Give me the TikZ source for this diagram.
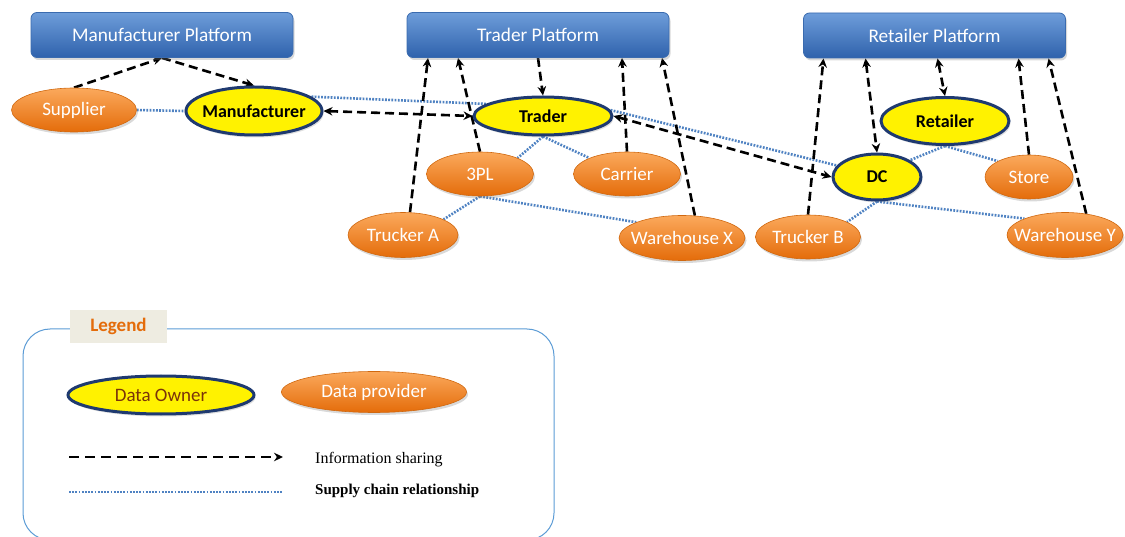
\documentclass[tikz,border=0pt]{standalone}
\usepackage{fontspec}
\setmainfont{Carlito}
\newfontfamily\legserif{Liberation Serif}
\usetikzlibrary{arrows.meta,shapes.geometric,shadows,backgrounds}
\definecolor{platTop}{HTML}{6E9DDA}
\definecolor{platBot}{HTML}{2F62AC}
\definecolor{platEdge}{HTML}{3A6BAF}
\definecolor{orTop}{HTML}{FBA95C}
\definecolor{orBot}{HTML}{E46C0A}
\definecolor{orEdge}{HTML}{D0680F}
\definecolor{ownEdge}{HTML}{1F3A70}
\definecolor{relBlue}{HTML}{4F82C2}
\definecolor{legEdge}{HTML}{5B9BD5}
\definecolor{legFill}{HTML}{EEECE1}
\definecolor{legText}{HTML}{E46C0A}
\definecolor{ownText}{HTML}{7A330A}
\newcommand{\ztext}[1]{\makebox[0pt]{#1}}
\tikzset{
  platform/.style={rectangle, rounded corners=6pt, draw=platEdge, line width=0.8pt,
    top color=platTop, bottom color=platBot, minimum width=262pt, minimum height=45pt,
    inner sep=0pt, text=white, font=\fontsize{19.3}{22}\selectfont,
    drop shadow={opacity=0.3, shadow xshift=1.5pt, shadow yshift=-2.5pt}},
  provider/.style={ellipse, inner sep=0pt, top color=orTop, bottom color=orBot,
    draw=orEdge, line width=0.6pt, text=white, font=\fontsize{19}{22}\selectfont,
    drop shadow={opacity=0.3, shadow xshift=1.5pt, shadow yshift=-2.5pt}},
  owner/.style={ellipse, inner sep=0pt, fill=yellow, draw=ownEdge, line width=3pt,
    text=black, font=\bfseries\fontsize{18}{21}\selectfont,
    drop shadow={opacity=0.25, shadow xshift=1.5pt, shadow yshift=-2.5pt}},
  share/.style={line width=2.6pt, dash pattern=on 9pt off 5pt,
    >={Stealth[length=9pt,width=8.5pt]}},
  relation/.style={relBlue, line width=2.6pt, dash pattern=on 1.8pt off 1.4pt},
}
\begin{document}
\begin{tikzpicture}[x=1pt,y=-1pt]
\clip (0,0) rectangle (1125,537);
\useasboundingbox (0,0) rectangle (1125,537);

% platforms
\node[platform] (mp) at (162,35) {Manufacturer Platform};
\node[platform] (tp) at (538,35) {Trader Platform};
\node[platform] (rp) at (934.5,35.5) {Retailer Platform};

% data owners
\node[owner, minimum width=136pt, minimum height=48pt] (man) at (254,111) {\ztext{Manufacturer}};
\node[owner, minimum width=138pt, minimum height=38pt] (tra) at (543,116) {\ztext{Trader}};
\node[owner, minimum width=128pt, minimum height=47pt] (ret) at (945,121) {\ztext{Retailer}};
\node[owner, minimum width=88pt, minimum height=46pt] (dc) at (877,177) {\ztext{DC}};

% data providers
\node[provider, minimum width=125pt, minimum height=44pt] (sup) at (74,110) {\ztext{Supplier}};
\node[provider, minimum width=107pt, minimum height=44pt] (tpl) at (480,174) {\ztext{3PL}};
\node[provider, minimum width=107pt, minimum height=44pt] (car) at (627,174) {\ztext{Carrier}};
\node[provider, minimum width=110pt, minimum height=45pt] (trA) at (403,235) {\ztext{Trucker A}};
\node[provider, minimum width=126pt, minimum height=45pt] (whX) at (682,238) {\ztext{Warehouse X}};
\node[provider, minimum width=88pt, minimum height=44pt] (sto) at (1029,177) {\ztext{Store}};
\node[provider, minimum width=105pt, minimum height=44pt] (trB) at (808,237) {\ztext{Trucker B}};
\node[provider, minimum width=116pt, minimum height=45pt] (whY) at (1065,235) {\ztext{Warehouse Y}};

\begin{pgfonlayer}{background}
% supply chain relationships
\draw[relation] (sup.east) -- (man.west);
\draw[relation] (man.14) -- (tra.168);
\draw[relation] (tra.5) -- (dc.164);
\draw[relation] (tra.south) -- (tpl.23);
\draw[relation] (tra.south) -- (car.157);
\draw[relation] (tpl.south) -- (trA.21);
\draw[relation] (tpl.south) -- (whX.161);
\draw[relation] (ret.south) -- (dc.27);
\draw[relation] (ret.south) -- (sto.153);
\draw[relation] (dc.south) -- (trB.21);
\draw[relation] (dc.south) -- (whY.158);
% information sharing
\draw[share,->] (sup.north) -- (mp.south);
\draw[share,->] (mp.south) -- (man.north);
\draw[share,<->] (man.east) -- (tra.west);
\draw[share,<->] (tra.east) -- (dc.west);
\draw[share,->] (tp.south) -- (tra.north);
\draw[share,->] ([xshift=7pt]trA.north) -- ([xshift=-110pt]tp.south);
\draw[share,->] (tpl.north) -- ([xshift=-80pt]tp.south);
\draw[share,->] (car.north) -- ([xshift=84pt]tp.south);
\draw[share,->] (whX.60) -- ([xshift=124pt]tp.south);
\draw[share,->] (trB.north) -- ([xshift=-111pt]rp.south);
\draw[share,<->] ([xshift=-69pt]rp.south) -- (dc.north);
\draw[share,<->] ([xshift=3pt]rp.south) -- (ret.north);
\draw[share,->] (sto.north) -- ([xshift=84pt]rp.south);
\draw[share,->] (whY.45) -- ([xshift=114pt]rp.south);
\end{pgfonlayer}

% legend
\draw[legEdge, line width=1pt, rounded corners=27pt] (23,329) rectangle (554,540);
\node[fill=legFill, minimum width=97pt, minimum height=33pt, inner sep=0pt,
  text=legText, font=\bfseries\fontsize{19}{22}\selectfont] (leg) at (118.5,326.5) {Legend};
\node[owner, minimum width=186pt, minimum height=38pt, text=ownText,
  font=\fontsize{19}{22}\selectfont] (lown) at (161,395) {\ztext{Data Owner}};
\node[provider, minimum width=185pt, minimum height=41pt] (lprov) at (374,392) {\ztext{Data provider}};
\coordinate (la1) at (69,457);
\coordinate (la2) at (283,457);
\draw[share,->, dash pattern=on 10pt off 6pt] (la1) -- (la2);
\coordinate (lb1) at (69,492);
\coordinate (lb2) at (282,492);
\draw[relation] (lb1) -- (lb2);
\node[anchor=west, inner sep=0pt, font=\legserif\fontsize{16}{18}\selectfont] (linfo) at (315,460) {Information sharing};
\node[anchor=west, inner sep=0pt, font=\legserif\bfseries\fontsize{15}{17}\selectfont] (lsup) at (315,491) {Supply chain relationship};
\end{tikzpicture}
\end{document}
